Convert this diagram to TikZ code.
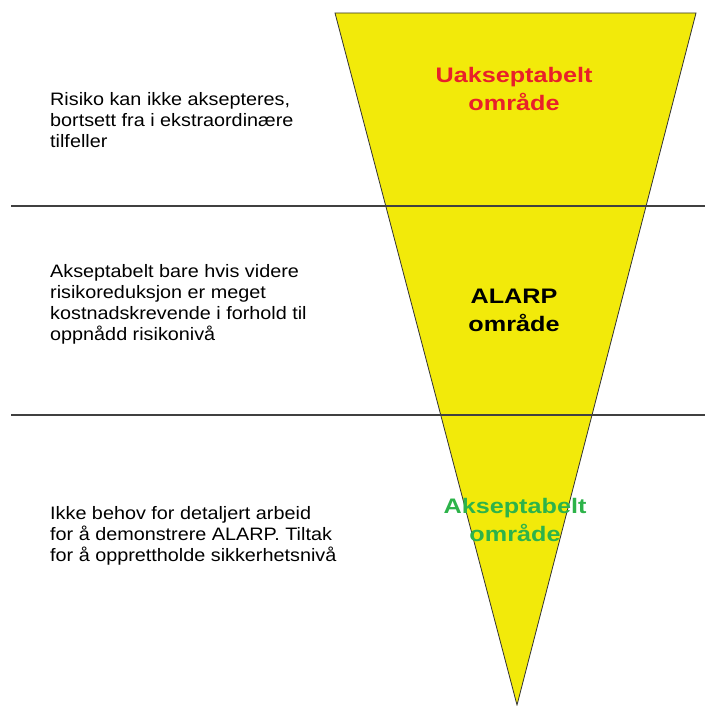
\documentclass[tikz,border=0pt]{standalone}
\usepackage{fontspec}
\setmainfont{Liberation Sans}
\newfontfamily\bodyfont[FakeStretch=1.1]{Liberation Sans}
\newfontfamily\titlefont[FakeStretch=1.2]{Liberation Sans}
\usetikzlibrary{positioning}
\definecolor{funnelyellow}{RGB}{242,234,10}
\definecolor{zonered}{RGB}{232,32,42}
\definecolor{zonegreen}{RGB}{45,179,74}
\definecolor{rulegray}{RGB}{64,64,64}

\begin{document}
\begin{tikzpicture}[
        x=1pt, y=-1pt,
        desc/.style={anchor=west, inner sep=0pt, align=left, font=\bodyfont\fontsize{18}{21}\selectfont},
        zone/.style={inner sep=0pt, align=center, font=\titlefont\bfseries\fontsize{21}{28}\selectfont},
        divider/.style={draw=rulegray, line width=1.3pt}
    ]
    \useasboundingbox (0,0) rectangle (705,706);

    % Funnel
    \coordinate (tl) at (335,13);
    \coordinate (tr) at (696,13);
    \coordinate (apex) at (517,705);
    \filldraw[fill=funnelyellow, draw=black!80, line width=0.8pt] (tl) -- (tr) -- (apex) -- cycle;

    % Dividers
    \coordinate (d1l) at (11,206);
    \coordinate (d1r) at (705,206);
    \coordinate (d2l) at (11,415);
    \coordinate (d2r) at (705,415);
    \draw[divider] (d1l) -- (d1r);
    \draw[divider] (d2l) -- (d2r);

    % Nodes
    \node[desc] (uaksdesc) at (50,120) {Risiko kan ikke aksepteres,\\
        bortsett fra i ekstraordinære\\
        tilfeller};
    \node[desc] (alarpdesc) at (50,304) {Akseptabelt bare hvis videre\\
        risikoreduksjon er meget\\
        kostnadskrevende i forhold til\\
        oppnådd risikonivå};
    \node[desc] (aksdesc) at (50,536) {Ikke behov for detaljert arbeid\\
        for å demonstrere ALARP. Tiltak\\
        for å opprettholde sikkerhetsnivå};

    \node[zone, text=zonered] (uaks) at (514,89) {Uakseptabelt\\område};
    \node[zone, text=black] (alarp) at (514,310) {ALARP\\område};
    \node[zone, text=zonegreen] (aks) at (515,520) {Akseptabelt\\område};

\end{tikzpicture}
\end{document}
